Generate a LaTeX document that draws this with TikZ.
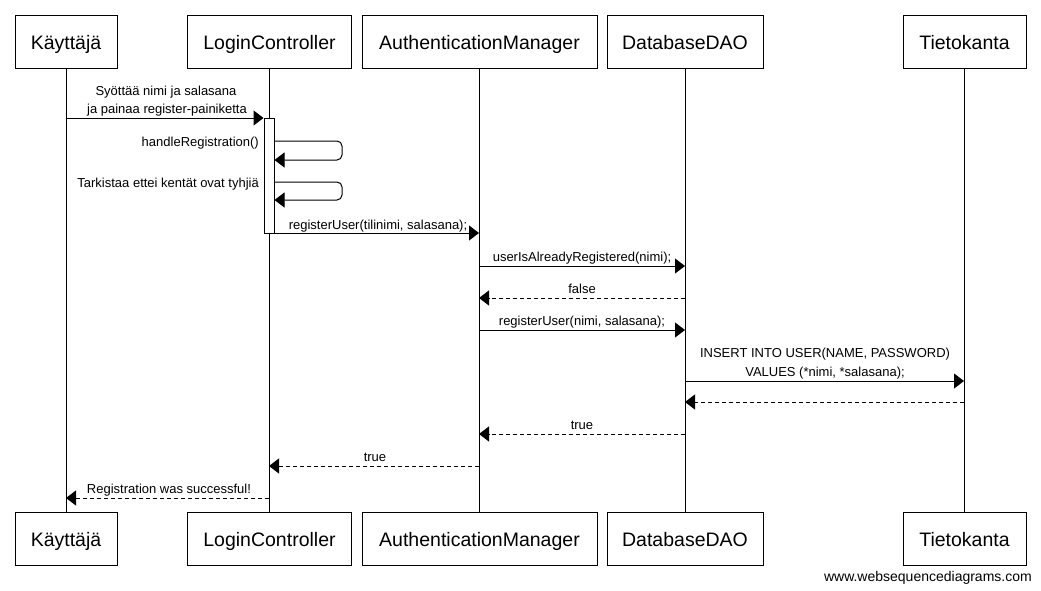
\documentclass[tikz,border=0pt]{standalone}
\usepackage{fontspec}
\setmainfont{Liberation Sans}
\usetikzlibrary{arrows.meta}
\begin{document}
\begin{tikzpicture}[x=1pt,y=-1pt,
  part/.style={draw=black, line width=1pt, fill=white, minimum height=53pt, inner sep=0pt, text height=16pt, text depth=0pt, font=\fontsize{19.5}{22}\selectfont},
  life/.style={draw=black, line width=1pt},
  actbox/.style={draw=black, line width=1pt, fill=white, minimum width=10pt, minimum height=115pt, inner sep=0pt},
  msg/.style={draw=black, line width=1pt, -{Triangle[length=10pt,width=15pt]}},
  ret/.style={msg, dash pattern=on 4pt off 3pt},
  lbl/.style={font=\fontsize{13}{15}\selectfont, inner sep=0pt, anchor=base},
  lblr/.style={lbl, anchor=base east}
]
\useasboundingbox[fill=white] (0,0) rectangle (1041,590);

% top participants
\node[part, minimum width=102pt] (K1) at (66,41.5) {Käyttäjä};
\node[part, minimum width=164pt] (L1) at (269.5,41.5) {LoginController};
\node[part, minimum width=235pt] (A1) at (479.5,41.5) {AuthenticationManager};
\node[part, minimum width=156pt] (D1) at (685,41.5) {DatabaseDAO};
\node[part, minimum width=123pt] (T1) at (964.5,41.5) {Tietokanta};
% bottom participants
\node[part, minimum width=102pt] (K2) at (66,538.5) {Käyttäjä};
\node[part, minimum width=164pt] (L2) at (269.5,538.5) {LoginController};
\node[part, minimum width=235pt] (A2) at (479.5,538.5) {AuthenticationManager};
\node[part, minimum width=156pt] (D2) at (685,538.5) {DatabaseDAO};
\node[part, minimum width=123pt] (T2) at (964.5,538.5) {Tietokanta};

% lifelines
\coordinate (kx) at (66,0);
\coordinate (lx) at (269,0);
\coordinate (ax) at (479,0);
\coordinate (dx) at (685,0);
\coordinate (tx) at (964,0);
\draw[life] (kx |- K1.south) -- (kx |- K2.north);
\draw[life] (lx |- L1.south) -- (lx |- L2.north);
\draw[life] (ax |- A1.south) -- (ax |- A2.north);
\draw[life] (dx |- D1.south) -- (dx |- D2.north);
\draw[life] (tx |- T1.south) -- (tx |- T2.north);

% activation
\node[actbox] (act) at (269,175.5) {};

% 1
\draw[msg] (kx |- 0,118) -- (act.west |- 0,118);
\node[lbl] (m1a) at (166,95.5) {Syöttää nimi ja salasana};
\node[lbl] (m1b) at (167,113.5) {ja painaa register-painiketta};
% 2 self
\draw[msg, rounded corners=5pt] (act.east |- 0,141) -- (342,141) -- (342,160) -- (act.east |- 0,160);
\node[lblr] (m2) at (259,146.5) {handleRegistration()};
% 3 self
\draw[msg, rounded corners=5pt] (act.east |- 0,182) -- (342,182) -- (342,200) -- (act.east |- 0,200);
\node[lblr] (m3) at (259,187.5) {Tarkistaa ettei kentät ovat tyhjiä};
% 4
\draw[msg] (act.east |- 0,233) -- (ax |- 0,233);
\node[lbl] (m4) at (378,229) {registerUser(tilinimi, salasana);};
% 5
\draw[msg] (ax |- 0,266) -- (dx |- 0,266);
\node[lbl] (m5) at (582,261) {userIsAlreadyRegistered(nimi);};
% 6
\draw[ret] (dx |- 0,298) -- (ax |- 0,298);
\node[lbl] (m6) at (582,293.5) {false};
% 7
\draw[msg] (ax |- 0,330) -- (dx |- 0,330);
\node[lbl] (m7) at (582,325.5) {registerUser(nimi, salasana);};
% 8
\draw[msg] (dx |- 0,381) -- (tx |- 0,381);
\node[lbl] (m8a) at (825,357.5) {INSERT INTO USER(NAME, PASSWORD)};
\node[lbl] (m8b) at (825,376) {VALUES (*nimi, *salasana);};
% 9
\draw[ret] (tx |- 0,402) -- (dx |- 0,402);
% 10
\draw[ret] (dx |- 0,434) -- (ax |- 0,434);
\node[lbl] (m10) at (582,429.5) {true};
% 11
\draw[ret] (ax |- 0,466) -- (lx |- 0,466);
\node[lbl] (m11) at (375,461.5) {true};
% 12
\draw[ret] (lx |- 0,498) -- (kx |- 0,498);
\node[lbl] (m12) at (169,493.5) {Registration was successful!};

% watermark
\node[font=\fontsize{14}{16}\selectfont, inner sep=0pt, anchor=base east] (wm) at (1032,581.5) {www.websequencediagrams.com};
\end{tikzpicture}
\end{document}
